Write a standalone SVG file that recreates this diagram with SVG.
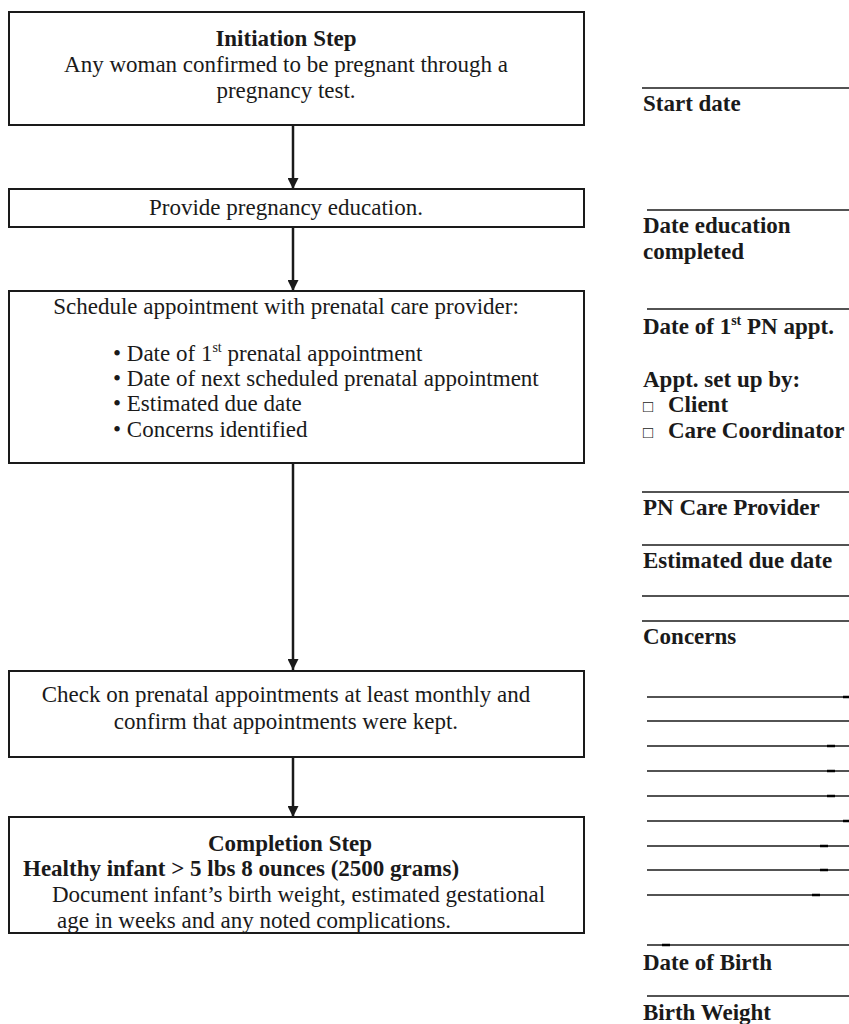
<svg xmlns="http://www.w3.org/2000/svg" width="849" height="1024" viewBox="0 0 849 1024">
<style>
.box{fill:#fff;stroke:#1a1a1a;stroke-width:2}
.t{font-family:"Liberation Serif","Times New Roman",serif;font-size:23px;fill:#1a1a1a}
.b{font-weight:bold}
.c{text-anchor:middle}
.sup{font-size:14px}
.ln{stroke:#1a1a1a;stroke-width:1.5}
.dk{stroke:#000;stroke-width:2.5}
.conn{stroke:#1a1a1a;stroke-width:2.5;fill:none}
</style>
<defs>
<marker id="ah" viewBox="0 0 11 11" refX="11" refY="5.5" markerWidth="11" markerHeight="11" orient="auto" markerUnits="userSpaceOnUse">
<path d="M0,0 L11,5.5 L0,11 z" fill="#1a1a1a"/>
</marker>
</defs>
<rect width="849" height="1024" fill="#fff"/>
<g id="connectors">
<line class="conn" x1="293" y1="125" x2="293" y2="189" marker-end="url(#ah)"/>
<line class="conn" x1="293" y1="227" x2="293" y2="291" marker-end="url(#ah)"/>
<line class="conn" x1="293" y1="463" x2="293" y2="670" marker-end="url(#ah)"/>
<line class="conn" x1="293" y1="757" x2="293" y2="817" marker-end="url(#ah)"/>
</g>
<g id="initiation">
<rect class="box" x="9" y="12" width="575" height="113"/>
<text class="t b c" x="286" y="46">Initiation Step</text>
<text class="t c" x="286" y="72">Any woman confirmed to be pregnant through a</text>
<text class="t c" x="286" y="98">pregnancy test.</text>
</g>
<g id="education">
<rect class="box" x="9" y="189" width="575" height="38"/>
<text class="t c" x="286" y="215">Provide pregnancy education.</text>
</g>
<g id="schedule">
<rect class="box" x="9" y="291" width="575" height="172"/>
<text class="t c" x="286" y="314">Schedule appointment with prenatal care provider:</text>
<text class="t" x="113" y="361">• Date of 1<tspan class="sup" dy="-9">st</tspan><tspan dy="9"> prenatal appointment</tspan></text>
<text class="t" x="113" y="386">• Date of next scheduled prenatal appointment</text>
<text class="t" x="113" y="411">• Estimated due date</text>
<text class="t" x="113" y="437">• Concerns identified</text>
</g>
<g id="check">
<rect class="box" x="9" y="671" width="575" height="86"/>
<text class="t c" x="286" y="702">Check on prenatal appointments at least monthly and</text>
<text class="t c" x="286" y="729">confirm that appointments were kept.</text>
</g>
<g id="completion">
<rect class="box" x="9" y="817" width="575" height="116"/>
<text class="t b c" x="290" y="851">Completion Step</text>
<text class="t b" x="23" y="876">Healthy infant &gt; 5 lbs 8 ounces (2500 grams)</text>
<text class="t" x="52" y="902">Document infant’s birth weight, estimated gestational</text>
<text class="t" x="57" y="928">age in weeks and any noted complications.</text>
</g>
<g id="form">
<line class="ln" x1="642" y1="88" x2="849" y2="88"/>
<text class="t b" x="643" y="111">Start date</text>
<line class="ln" x1="647" y1="210" x2="849" y2="210"/>
<text class="t b" x="643" y="233">Date education</text>
<text class="t b" x="643" y="259">completed</text>
<line class="ln" x1="647" y1="309" x2="849" y2="309"/>
<text class="t b" x="643" y="334">Date of 1<tspan class="sup" dy="-9">st</tspan><tspan dy="9"> PN appt.</tspan></text>
<text class="t b" x="643" y="387">Appt. set up by:</text>
<text class="t b" x="643" y="412"><tspan font-weight="normal" font-size="17">□</tspan><tspan x="668">Client</tspan></text>
<text class="t b" x="643" y="438"><tspan font-weight="normal" font-size="17">□</tspan><tspan x="668">Care Coordinator</tspan></text>
<line class="ln" x1="642" y1="492" x2="849" y2="492"/>
<text class="t b" x="643" y="515">PN Care Provider</text>
<line class="ln" x1="642" y1="545" x2="849" y2="545"/>
<text class="t b" x="643" y="568">Estimated due date</text>
<line class="ln" x1="642" y1="596" x2="849" y2="596"/>
<line class="ln" x1="642" y1="621" x2="849" y2="621"/>
<text class="t b" x="643" y="644">Concerns</text>
<line class="ln" x1="647" y1="697" x2="849" y2="697"/>
<line class="dk" x1="843" y1="697" x2="849" y2="697"/>
<line class="ln" x1="647" y1="721" x2="849" y2="721"/>
<line class="ln" x1="647" y1="746" x2="849" y2="746"/>
<line class="dk" x1="827" y1="746" x2="835" y2="746"/>
<line class="ln" x1="647" y1="771" x2="849" y2="771"/>
<line class="dk" x1="827" y1="771" x2="835" y2="771"/>
<line class="ln" x1="647" y1="796" x2="849" y2="796"/>
<line class="dk" x1="827" y1="796" x2="835" y2="796"/>
<line class="ln" x1="647" y1="821" x2="849" y2="821"/>
<line class="dk" x1="843" y1="821" x2="849" y2="821"/>
<line class="ln" x1="647" y1="846" x2="849" y2="846"/>
<line class="dk" x1="820" y1="846" x2="828" y2="846"/>
<line class="ln" x1="647" y1="870" x2="849" y2="870"/>
<line class="dk" x1="820" y1="870" x2="828" y2="870"/>
<line class="ln" x1="647" y1="895" x2="849" y2="895"/>
<line class="dk" x1="812" y1="895" x2="820" y2="895"/>
<line class="ln" x1="647" y1="945" x2="849" y2="945"/>
<line class="dk" x1="662" y1="945" x2="670" y2="945"/>
<text class="t b" x="643" y="970">Date of Birth</text>
<line class="ln" x1="647" y1="996" x2="849" y2="996"/>
<text class="t b" x="643" y="1020">Birth Weight</text>
</g>
</svg>
